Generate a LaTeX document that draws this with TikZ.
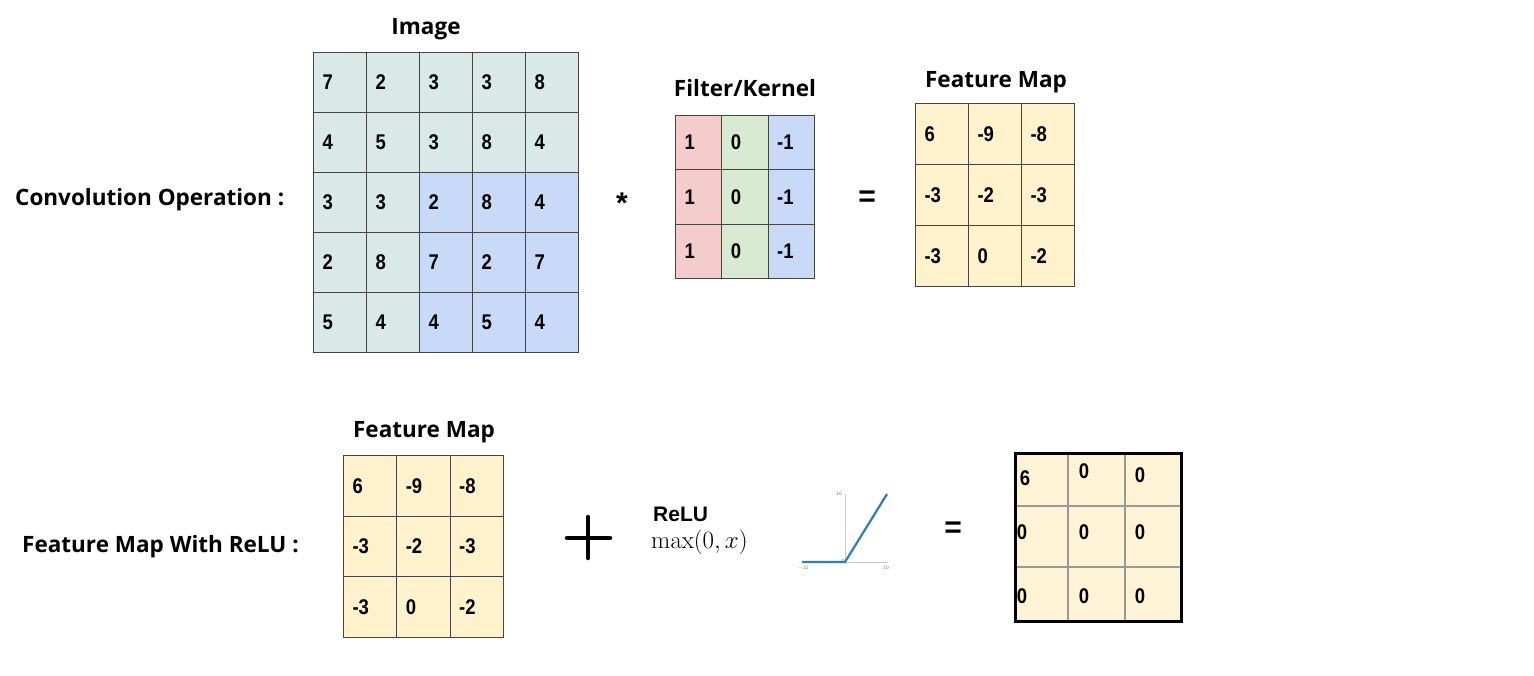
\documentclass[tikz,border=0pt]{standalone}
\usepackage[no-math]{fontspec}
\usepackage{graphicx}
\setmainfont{Liberation Sans}
\newfontfamily\titlefont{Open Sans}
\definecolor{imgc}{HTML}{D8E9E7}
\definecolor{selc}{HTML}{C9DAF8}
\definecolor{redc}{HTML}{F4CCCC}
\definecolor{grnc}{HTML}{D9EAD3}
\definecolor{bluc}{HTML}{C9DAF8}
\definecolor{fmc}{HTML}{FFF2CC}
\definecolor{resc}{HTML}{FFF3D6}
\definecolor{gridc}{HTML}{454545}
\definecolor{relub}{HTML}{2E7EBA}
\newcommand\cellnum[1]{\scalebox{1}[1.15]{#1}}
\tikzset{
  cellbox/.style={draw=gridc, line width=1pt, inner ysep=0pt, inner xsep=9pt,
     anchor=north west, align=left, font=\fontsize{18.5}{20}\selectfont\bfseries},
  imgcell/.style={cellbox, minimum height=60pt, text width=35pt},
  filtcell/.style={cellbox, minimum height=54.3pt, text width=28.3pt},
  fmcell/.style={cellbox, fill=fmc, minimum height=61pt, text width=35pt},
  fmcellb/.style={cellbox, fill=fmc, minimum height=60.7pt, text width=35.3pt},
  title/.style={font=\titlefont\fontsize{22.5}{26}\selectfont\bfseries, inner sep=0pt},
  rescell/.style={draw=gray!80, line width=1.5pt, fill=resc, anchor=north west, inner sep=0pt},
  resnum/.style={font=\fontsize{18.5}{20}\selectfont\bfseries, inner sep=0pt},
  opsym/.style={font=\fontsize{30}{32}\selectfont\bfseries, inner sep=0pt},
  ticklab/.style={font=\fontsize{5}{6}\selectfont, text=gray, inner sep=0pt},
}
\begin{document}
\begin{tikzpicture}[x=1pt,y=-1pt]
\useasboundingbox (0,0) rectangle (1534,675);
\fill[white] (0,0) rectangle (1534,675);

% ---------- Convolution operation ----------
\node[title, anchor=west] (lab1) at (15,200) {Convolution Operation :};
\node[title] (imgtitle) at (426,29) {Image};
\foreach \r/\c/\v/\f in {0/0/7/imgc,0/1/2/imgc,0/2/3/imgc,0/3/3/imgc,0/4/8/imgc,
  1/0/4/imgc,1/1/5/imgc,1/2/3/imgc,1/3/8/imgc,1/4/4/imgc,
  2/0/3/imgc,2/1/3/imgc,2/2/2/selc,2/3/8/selc,2/4/4/selc,
  3/0/2/imgc,3/1/8/imgc,3/2/7/selc,3/3/2/selc,3/4/7/selc,
  4/0/5/imgc,4/1/4/imgc,4/2/4/selc,4/3/5/selc,4/4/4/selc}
  \node[imgcell, fill=\f] (img-\r-\c) at (313+53*\c, 52+60*\r) {\cellnum{\v}};

\node[opsym] (star) at (622,203) {*};

\node[title] (filttitle) at (745,88) {Filter/Kernel};
\foreach \r in {0,1,2}{
  \node[filtcell, fill=redc] (f-\r-0) at (675, 115+54.3*\r) {\cellnum{1}};
  \node[filtcell, fill=grnc] (f-\r-1) at (721.3, 115+54.3*\r) {\cellnum{0}};
  \node[filtcell, fill=bluc] (f-\r-2) at (767.6, 115+54.3*\r) {\cellnum{-1}};
}

\node[opsym] (eq1) at (867,199) {=};

\node[title] (fmtitle1) at (996,82) {Feature Map};
\foreach \r/\c/\v in {0/0/6,0/1/-9,0/2/-8,1/0/-3,1/1/-2,1/2/-3,2/0/-3,2/1/0,2/2/-2}
  \node[fmcell] (fm-\r-\c) at (915+53*\c, 103+61*\r) {\cellnum{\v}};

% ---------- ReLU ----------
\node[title, anchor=west] (lab2) at (22,547) {Feature Map With ReLU :};
\node[title] (fmtitle2) at (424,432) {Feature Map};
\foreach \r/\c/\v in {0/0/6,0/1/-9,0/2/-8,1/0/-3,1/1/-2,1/2/-3,2/0/-3,2/1/0,2/2/-2}
  \node[fmcellb] (fb-\r-\c) at (343+53.3*\c, 455+60.7*\r) {\cellnum{\v}};

% plus sign
\coordinate (plusL) at (567,538);
\coordinate (plusR) at (610,538);
\coordinate (plusT) at (588,517);
\coordinate (plusB) at (588,558);
\draw[line width=4.5pt, line cap=round] (plusL) -- (plusR);
\draw[line width=4.5pt, line cap=round] (plusT) -- (plusB);

\node[anchor=west, inner sep=0pt, font=\fontsize{21}{23}\selectfont\bfseries] (relut) at (653,514) {ReLU};
\node[anchor=west, inner sep=0pt, font=\fontsize{25.5}{28}\selectfont] (relum) at (651,542) {$\max(0,x)$};

% ReLU graph
\coordinate (ax0) at (845,562);
\coordinate (axT) at (845,494);
\coordinate (axL) at (802,562);
\coordinate (axR) at (888,562);
\coordinate (curT) at (887,494);
\draw[gray!40, line width=0.8pt] (axT) -- (ax0);
\draw[gray!40, line width=0.8pt] (axL) -- (axR);
\draw[relub, line width=2.2pt] (axL) -- (ax0) -- (curT);
\node[ticklab, anchor=east] (t10v) at (842,494) {10};
\node[ticklab] (t0) at (843,561) {0};
\node[ticklab] (tm10) at (803,568) {$-$10};
\node[ticklab] (t10h) at (886,568) {10};

\node[opsym] (eq2) at (953,530) {=};

% result grid
\node[rescell, minimum width=52pt, minimum height=52pt] (r-0-0) at (1015,453) {};
\node[rescell, minimum width=57pt, minimum height=52pt] (r-0-1) at (1067,453) {};
\node[rescell, minimum width=56pt, minimum height=52pt] (r-0-2) at (1124,453) {};
\node[rescell, minimum width=52pt, minimum height=61pt] (r-1-0) at (1015,505) {};
\node[rescell, minimum width=57pt, minimum height=61pt] (r-1-1) at (1067,505) {};
\node[rescell, minimum width=56pt, minimum height=61pt] (r-1-2) at (1124,505) {};
\node[rescell, minimum width=52pt, minimum height=54pt] (r-2-0) at (1015,566) {};
\node[rescell, minimum width=57pt, minimum height=54pt] (r-2-1) at (1067,566) {};
\node[rescell, minimum width=56pt, minimum height=54pt] (r-2-2) at (1124,566) {};
\draw[black, line width=3pt] (r-0-0.north west) rectangle (r-2-2.south east);

\node[resnum] (rn-0-0) at (1025,478) {\cellnum{6}};
\node[resnum] (rn-0-1) at (1084,471) {\cellnum{0}};
\node[resnum] (rn-0-2) at (1140,475) {\cellnum{0}};
\node[resnum] (rn-1-0) at (1022,532) {\cellnum{0}};
\node[resnum] (rn-1-1) at (1084,532) {\cellnum{0}};
\node[resnum] (rn-1-2) at (1140,532) {\cellnum{0}};
\node[resnum] (rn-2-0) at (1022,596) {\cellnum{0}};
\node[resnum] (rn-2-1) at (1084,596) {\cellnum{0}};
\node[resnum] (rn-2-2) at (1140,596) {\cellnum{0}};
\end{tikzpicture}
\end{document}
